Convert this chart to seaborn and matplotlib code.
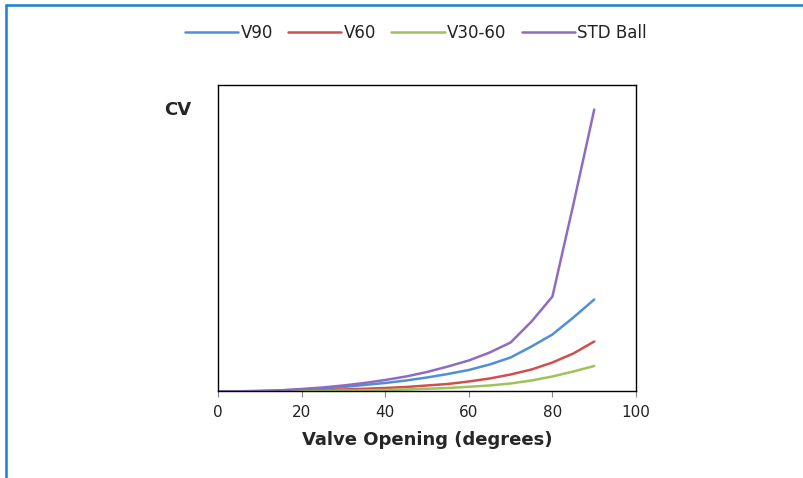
#!/usr/bin/env python3
import pandas as pd
import matplotlib
matplotlib.use("Agg")
import matplotlib.pyplot as plt
from matplotlib.lines import Line2D
import seaborn as sns

sns.set_style("white")
plt.rcParams['font.family'] = ['DejaVu Sans']

# Data (CV in arbitrary units)
angles = [0, 5, 10, 15, 20, 25, 30, 35, 40, 45, 50, 55, 60, 65, 70, 75, 80, 85, 90]
v90 = [0, 0.1, 0.4, 1, 2, 3, 4.5, 6.5, 8.5, 11, 14, 17.5, 21.5, 27, 34, 45, 57, 74, 92]
v60 = [0, 0.05, 0.2, 0.4, 0.8, 1.3, 2, 2.7, 3.5, 4.5, 6, 7.5, 10, 13, 17, 22, 29, 38, 50]
v30_60 = [0, 0.02, 0.1, 0.2, 0.3, 0.5, 0.8, 1.1, 1.5, 2, 2.7, 3.5, 4.7, 6, 8, 11, 15, 20, 25.5]
std_ball = [0, 0.2, 0.6, 1.2, 2.5, 4, 6, 8.5, 11.5, 15, 19.5, 25, 31, 39, 49, 70, 95, 187, 282]

series = ['V90', 'V60', 'V30-60', 'STD Ball']
colors = ['#4F8FD6', '#D0504F', '#9DC35A', '#8E6CC0']
x_ticks = [0, 20, 40, 60, 80, 100]

frames = []
for name, vals in zip(series, [v90, v60, v30_60, std_ball]):
    frames.append(pd.DataFrame({'angle': angles, 'cv': vals, 'valve': name}))
df = pd.concat(frames, ignore_index=True)

fig = plt.figure(figsize=(8.04, 4.78), dpi=100)
ax = fig.add_axes([0.2711, 0.181, 0.52, 0.641])

sns.lineplot(data=df, x='angle', y='cv', hue='valve', hue_order=series,
             palette=colors, linewidth=1.8, ax=ax, legend=True)
handles, labels = ax.get_legend_handles_labels()
ax.get_legend().remove()

ax.set_xlim(0, 100)
ax.set_ylim(0, 306.5)
ax.set_xticks(x_ticks)
ax.set_yticks([])
ax.tick_params(axis='x', direction='out', length=4, width=0.8, color='#888888',
               bottom=True, labelsize=11, pad=6, colors='#222222')
ax.set_xlabel('Valve Opening (degrees)', fontsize=13, fontweight='bold', labelpad=8)
ax.set_ylabel('')
for s in ax.spines.values():
    s.set_color('black')
    s.set_linewidth(1.0)
    s.set_visible(True)

fig.text(178 / 804, 1 - 110 / 478, 'CV', ha='center', va='center',
         fontsize=13, fontweight='bold')

leg = fig.legend(handles, labels, loc='center', bbox_to_anchor=(416 / 804, 1 - 33 / 478),
                 ncol=4, frameon=False, fontsize=12, handlelength=3.2,
                 handletextpad=0.15, columnspacing=0.9)
for t in leg.get_texts():
    t.set_color('#222222')

# blue frame around the chart area (top and left visible)
fig.add_artist(Line2D([6.5 / 804, 6.5 / 804], [0, 1 - 5 / 478], transform=fig.transFigure,
                      color='#1a7fd0', linewidth=1.8))
fig.add_artist(Line2D([6.5 / 804, 1], [1 - 5 / 478, 1 - 5 / 478], transform=fig.transFigure,
                      color='#1a7fd0', linewidth=1.8))

fig.savefig('out.png', dpi=100)
plt.close(fig)
